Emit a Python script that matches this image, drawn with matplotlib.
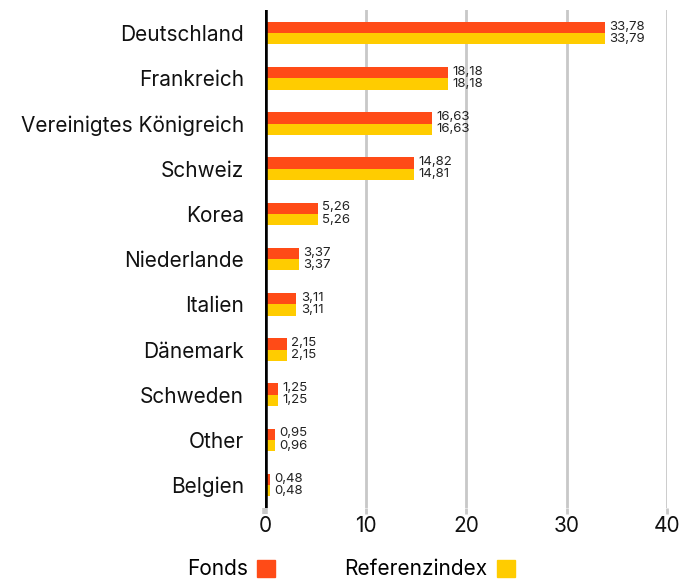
import matplotlib
matplotlib.use("Agg")
import matplotlib.pyplot as plt
import numpy as np
from matplotlib.patches import Patch

categories = ["Deutschland", "Frankreich", "Vereinigtes Königreich", "Schweiz", "Korea",
              "Niederlande", "Italien", "Dänemark", "Schweden", "Other", "Belgien"]
fonds = [33.78, 18.18, 16.63, 14.82, 5.26, 3.37, 3.11, 2.15, 1.25, 0.95, 0.48]
referenz = [33.79, 18.18, 16.63, 14.81, 5.26, 3.37, 3.11, 2.15, 1.25, 0.96, 0.48]
series_names = ["Fonds", "Referenzindex"]
xticks = [0, 10, 20, 30, 40]

c_fonds = "#FF4B17"
c_ref = "#FFCC00"
grid_c = "#C8C8C8"

plt.rcParams['font.family'] = ['Inter', 'DejaVu Sans']

fig = plt.figure(figsize=(6.92, 5.83), dpi=100)
ax = fig.add_axes([0.383, 0.129, 0.581, 0.853])

y = np.arange(len(categories))
h = 0.25
ax.barh(y - h / 2, fonds, height=h, color=c_fonds, zorder=3)
ax.barh(y + h / 2, referenz, height=h, color=c_ref, zorder=3)

def fmt(v):
    return f"{v:.2f}".replace(".", ",")

for yi, f, r in zip(y, fonds, referenz):
    ax.text(f + 0.45, yi - h / 2 - 0.02, fmt(f), va="center", ha="left", fontsize=9.5, color="#222222", zorder=4)
    ax.text(r + 0.45, yi + h / 2 + 0.0, fmt(r), va="center", ha="left", fontsize=9.5, color="#222222", zorder=4)

ax.set_xlim(0, 40)
ax.set_ylim(len(categories) - 0.5, -0.5)
ax.set_yticks(y)
ax.set_yticklabels(categories, fontsize=15, color="#111111")
ax.set_xticks(xticks)
ax.set_xticklabels([str(t) for t in xticks], fontsize=15, color="#111111")

for t in xticks[1:]:
    ax.axvline(t, color=grid_c, lw=2, zorder=1)
ax.axvline(0, color="black", lw=4, zorder=5)

for s in ax.spines.values():
    s.set_visible(False)
ax.tick_params(axis="y", length=0, pad=15)
ax.tick_params(axis="x", length=4, width=2, color=grid_c, pad=2)
xtl = ax.xaxis.get_ticklines()
xtl[0].set_color("black")
xtl[0].set_markeredgewidth(4)

handles = [Patch(color=c_fonds), Patch(color=c_ref)]
fig.legend(handles, series_names, loc="lower left", bbox_to_anchor=(0.243, -0.026), ncol=2,
           markerfirst=False, frameon=False, fontsize=15, handlelength=0.88, handleheight=0.88,
           handletextpad=0.45, columnspacing=3.3)

fig.savefig("out.png", dpi=100)
